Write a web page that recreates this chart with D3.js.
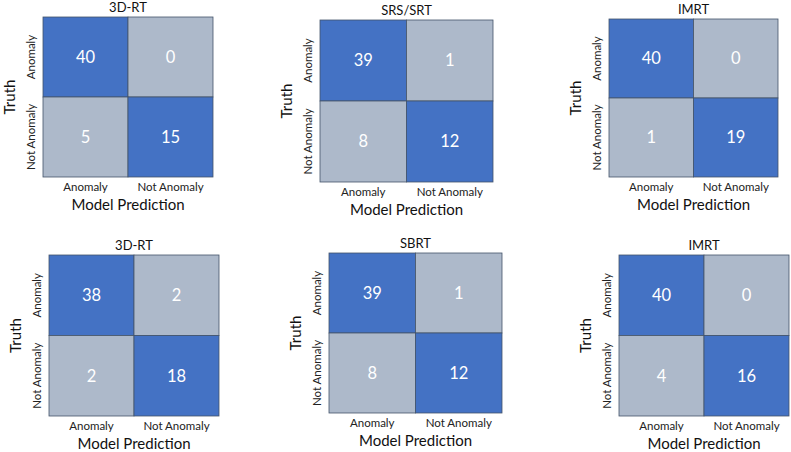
<!DOCTYPE html>
<html><head><meta charset="utf-8">
<script src="https://cdn.jsdelivr.net/npm/d3@7"></script>
<style>html,body{margin:0;padding:0;background:#fff;}svg{display:block;}</style>
</head><body>
<svg id="chart" width="791" height="452"></svg>
<script>
const titles = ["3D-RT", "SRS/SRT", "IMRT", "3D-RT", "SBRT", "IMRT"];
const classes = ["Anomaly", "Not Anomaly"];
// matrices: rows = truth, cols = prediction
const matrix3DRT1 = [[40, 0], [5, 15]];
const matrixSRS = [[39, 1], [8, 12]];
const matrixIMRT1 = [[40, 0], [1, 19]];
const matrix3DRT2 = [[38, 2], [2, 18]];
const matrixSBRT = [[39, 1], [8, 12]];
const matrixIMRT2 = [[40, 0], [4, 16]];
const matrices = [matrix3DRT1, matrixSRS, matrixIMRT1, matrix3DRT2, matrixSBRT, matrixIMRT2];
const xLabel = "Model Prediction";
const yLabel = "Truth";

// layout per panel: grid box [left, top, right, bottom]
const layouts = [
  {l: 43, t: 17, r: 213, b: 177},
  {l: 320, t: 20, r: 493, b: 182},
  {l: 609, t: 19, r: 778, b: 177},
  {l: 49, t: 255, r: 219, b: 416},
  {l: 329, t: 253, r: 502, b: 413},
  {l: 619, t: 255, r: 789, b: 416}
];

const blue = "#4472C4", grey = "#ADB9CA";
const font = "Lato, 'Open Sans', sans-serif";
const svg = d3.select("#chart");

matrices.forEach((m, i) => {
  const L = layouts[i];
  const x = d3.scaleBand().domain(classes).range([L.l, L.r]);
  const y = d3.scaleBand().domain(classes).range([L.t, L.b]);
  const g = svg.append("g");
  const cells = [];
  m.forEach((row, ri) => row.forEach((v, ci) => cells.push({t: classes[ri], p: classes[ci], v, diag: ri === ci})));
  g.selectAll("rect").data(cells).join("rect")
    .attr("x", d => x(d.p)).attr("y", d => y(d.t))
    .attr("width", x.bandwidth()).attr("height", y.bandwidth())
    .attr("fill", d => d.diag ? blue : grey)
    .attr("stroke", "#44546A").attr("stroke-width", 0.8);
  g.selectAll("text.val").data(cells).join("text").attr("class", "val")
    .attr("x", d => x(d.p) + x.bandwidth() / 2)
    .attr("y", d => y(d.t) + y.bandwidth() / 2)
    .attr("dy", "0.36em").attr("text-anchor", "middle")
    .attr("fill", "#fff").attr("font-family", font).attr("font-size", 16.5)
    .text(d => d.v);
  // x tick labels
  g.selectAll("text.xt").data(classes).join("text").attr("class", "xt")
    .attr("x", d => x(d) + x.bandwidth() / 2).attr("y", L.b + 14)
    .attr("text-anchor", "middle").attr("font-family", font).attr("font-size", 11.5)
    .attr("fill", "#222").text(d => d);
  // y tick labels
  g.selectAll("text.yt").data(classes).join("text").attr("class", "yt")
    .attr("transform", d => `translate(${L.l - 8},${y(d) + y.bandwidth() / 2}) rotate(-90)`)
    .attr("text-anchor", "middle").attr("font-family", font).attr("font-size", 11.5)
    .attr("fill", "#222").text(d => d);
  // title
  g.append("text").attr("x", (L.l + L.r) / 2).attr("y", L.t - 5)
    .attr("text-anchor", "middle").attr("font-family", font).attr("font-size", 13)
    .attr("fill", "#111").text(titles[i]);
  // x label
  g.append("text").attr("x", (L.l + L.r) / 2).attr("y", L.b + 33)
    .attr("text-anchor", "middle").attr("font-family", font).attr("font-size", 15)
    .attr("fill", "#111").text(xLabel);
  // y label
  g.append("text")
    .attr("transform", `translate(${L.l - 28},${(L.t + L.b) / 2}) rotate(-90)`)
    .attr("text-anchor", "middle").attr("font-family", font).attr("font-size", 15)
    .attr("fill", "#111").text(yLabel);
});
</script>
</body></html>
